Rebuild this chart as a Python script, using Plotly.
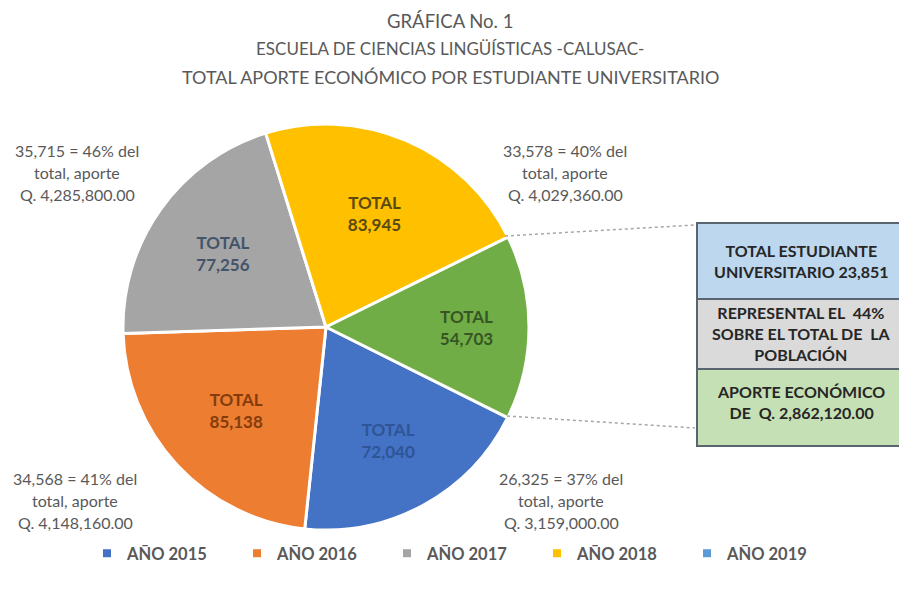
import plotly.graph_objects as go

# ---- data ----
years = ["AÑO 2015", "AÑO 2016", "AÑO 2017", "AÑO 2018", "AÑO 2019"]
totals = [72040, 85138, 77256, 83945, 54703]
slice_colors = ["#4472C4", "#ED7D31", "#A5A5A5", "#FFC000", "#70AD47"]
legend_colors = ["#4472C4", "#ED7D31", "#A5A5A5", "#FFC000", "#5B9BD5"]
text_colors = ["#2F5597", "#843C0C", "#44546A", "#594A12", "#375623"]

title_lines = ["GRÁFICA No. 1",
               "ESCUELA DE CIENCIAS LINGÜÍSTICAS -CALUSAC-",
               "TOTAL APORTE ECONÓMICO POR ESTUDIANTE UNIVERSITARIO"]

side_notes = [
    ["35,715 = 46% del", "total, aporte", "Q. 4,285,800.00"],
    ["33,578 = 40% del", "total, aporte", "Q. 4,029,360.00"],
    ["34,568 = 41% del", "total, aporte", "Q. 4,148,160.00"],
    ["26,325 = 37% del", "total, aporte", "Q. 3,159,000.00"],
]
box_texts = [
    "TOTAL ESTUDIANTE<br>UNIVERSITARIO 23,851",
    "REPRESENTAL EL  44%<br>SOBRE EL TOTAL DE  LA<br>POBLACIÓN",
    "APORTE ECONÓMICO<br>DE  Q. 2,862,120.00",
]
box_colors = ["#BDD7EE", "#DADADA", "#C5E0B4"]

W, H = 907, 590
OFF = 8  # page body margin
FONT = "Lato"


def px(x):
    return (x - OFF) / W


def py(y):
    return 1 - (y - OFF) / H


fig = go.Figure()

cx, cy, r = 326, 327, 203
fig.add_trace(go.Pie(
    labels=years, values=totals, sort=False, direction="clockwise",
    rotation=116.5,
    marker=dict(colors=slice_colors, line=dict(color="white", width=3)),
    texttemplate="<b>TOTAL<br>%{value:,}</b>",
    textposition="inside", insidetextorientation="horizontal",
    textfont=dict(family=FONT, size=17, color=text_colors),
    showlegend=False, hoverinfo="label+value",
    domain=dict(x=[px(cx - r), px(cx + r)], y=[py(cy + r), py(cy - r)]),
))

for name, col in zip(years, legend_colors):
    fig.add_trace(go.Scatter(x=[None], y=[None], mode="markers", name=name,
                             marker=dict(symbol="square", size=8, color=col)))

annotations = []
title_sizes = [18.5, 17, 18]
title_y = [21, 48, 77]
for i, line in enumerate(title_lines):
    annotations.append(dict(x=px(450), y=py(title_y[i]), xref="paper", yref="paper",
                            xanchor="center", yanchor="middle", borderpad=0,
                            text=line, showarrow=False,
                            font=dict(family=FONT, size=title_sizes[i], color="#595959")))

note_pos = [(77, 150), (565, 150), (75, 478), (561, 478)]
for (nx, ny), lines in zip(note_pos, side_notes):
    for j, line in enumerate(lines):
        annotations.append(dict(x=px(nx), y=py(ny + 22 * j), xref="paper", yref="paper",
                                xanchor="center", yanchor="middle",
                                text=line, showarrow=False,
                                font=dict(family=FONT, size=16, color="#595959")))

box_edges = [223, 299, 369, 446]
shapes = []
for k, (txt, col) in enumerate(zip(box_texts, box_colors)):
    y0, y1 = box_edges[k], box_edges[k + 1]
    shapes.append(dict(type="rect", xref="paper", yref="paper",
                       x0=px(697), x1=px(922), y0=py(y1), y1=py(y0),
                       fillcolor=col, line=dict(color="#5A6470", width=2),
                       layer="below"))
    annotations.append(dict(x=px(801), y=py((y0 + y1) / 2 - (5 if k == 2 else 0)),
                            xref="paper", yref="paper",
                            xanchor="center", yanchor="middle",
                            text="<b>" + txt + "</b>", showarrow=False,
                            font=dict(family=FONT, size=16, color="#262626")))

shapes.append(dict(type="line", xref="paper", yref="paper", x0=px(505), y0=py(236),
                   x1=px(695), y1=py(225), line=dict(color="#A6A6A6", width=1.5, dash="3px,3px")))
shapes.append(dict(type="line", xref="paper", yref="paper", x0=px(507), y0=py(416),
                   x1=px(695), y1=py(428), line=dict(color="#A6A6A6", width=1.5, dash="3px,3px")))

fig.update_layout(
    width=W, height=H, autosize=False,
    margin=dict(l=0, r=0, t=0, b=0),
    paper_bgcolor="white", plot_bgcolor="white",
    xaxis=dict(visible=False), yaxis=dict(visible=False),
    annotations=annotations, shapes=shapes,
    legend=dict(orientation="h", x=px(462), xanchor="center", y=py(536), yanchor="top",
                entrywidth=105, font=dict(family=FONT, size=16.5, color="#595959", weight="bold"),
                itemclick=False, itemdoubleclick=False),
)

fig.write_html("out.html")
